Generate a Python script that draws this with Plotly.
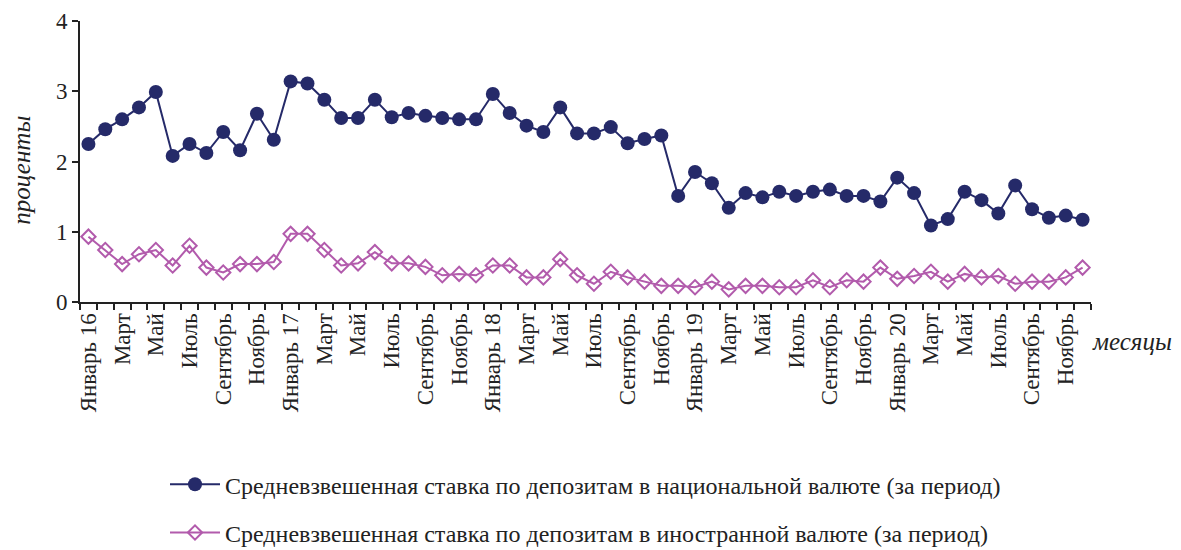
import plotly.graph_objects as go

months = ["Январь", "Февраль", "Март", "Апрель", "Май", "Июнь",
          "Июль", "Август", "Сентябрь", "Октябрь", "Ноябрь", "Декабрь"]
years = ["16", "17", "18", "19", "20"]
categories = [f"20{y}-{m:02d}" for y in years for m in range(1, 13)]
tick_labels = []
for y in years:
    for i, m in enumerate(months):
        if i == 0:
            tick_labels.append(f"{m} {y}")
        elif i % 2 == 0:
            tick_labels.append(m)
        else:
            tick_labels.append("")

national = [2.25, 2.46, 2.60, 2.77, 2.99, 2.08, 2.25, 2.12, 2.42, 2.16, 2.68, 2.31,
            3.14, 3.11, 2.88, 2.62, 2.62, 2.88, 2.63, 2.69, 2.65, 2.62, 2.60, 2.60,
            2.96, 2.69, 2.51, 2.42, 2.77, 2.40, 2.40, 2.49, 2.26, 2.32, 2.37, 1.51,
            1.85, 1.69, 1.34, 1.55, 1.49, 1.57, 1.51, 1.57, 1.60, 1.51, 1.51, 1.43,
            1.77, 1.55, 1.09, 1.18, 1.57, 1.45, 1.26, 1.66, 1.32, 1.20, 1.23, 1.17]
foreign = [0.93, 0.74, 0.54, 0.68, 0.74, 0.52, 0.80, 0.49, 0.42, 0.54, 0.54, 0.57,
           0.97, 0.97, 0.74, 0.52, 0.55, 0.71, 0.55, 0.55, 0.50, 0.38, 0.40, 0.38,
           0.52, 0.52, 0.35, 0.35, 0.61, 0.38, 0.26, 0.43, 0.35, 0.29, 0.23, 0.23,
           0.21, 0.29, 0.18, 0.23, 0.23, 0.21, 0.21, 0.31, 0.21, 0.31, 0.29, 0.49,
           0.33, 0.37, 0.43, 0.29, 0.40, 0.35, 0.37, 0.26, 0.29, 0.29, 0.35, 0.49]

name_nat = "Средневзвешенная ставка по депозитам в национальной валюте (за период)"
name_for = "Средневзвешенная ставка по депозитам в иностранной валюте (за период)"

DARK = "#252A69"
PINK = "#B25BAC"
INK = "#222222"
FONT = "Liberation Serif"

fig = go.Figure()
fig.add_trace(go.Scatter(
    x=categories, y=national, name=name_nat, mode="lines+markers",
    line=dict(color=DARK, width=2),
    marker=dict(symbol="circle", size=14, color=DARK),
    legendgroup="a",
))
fig.add_trace(go.Scatter(
    x=categories, y=foreign, name=name_for, mode="lines+markers",
    line=dict(color=PINK, width=2),
    marker=dict(symbol="diamond-open", size=11, color=PINK, line=dict(width=2, color=PINK)),
    legendgroup="b",
))

fig.update_layout(
    width=1181, height=550,
    margin=dict(l=72, r=98, t=13, b=256, autoexpand=False),
    plot_bgcolor="white", paper_bgcolor="white",
    font=dict(family=FONT, size=20, color=INK),
    showlegend=True,
    legend=dict(x=0.5, xanchor="center", y=-0.57, yanchor="top",
                orientation="v", tracegroupgap=14, itemwidth=50,
                font=dict(family=FONT, size=24, color=INK),
                bgcolor="rgba(0,0,0,0)"),
    xaxis=dict(
        type="category", categoryorder="array", categoryarray=categories,
        tickmode="array", tickvals=categories, ticktext=tick_labels,
        tickson="boundaries", ticks="outside", ticklen=6, tickwidth=1.5,
        tickcolor=INK, tickangle=-90, automargin=False,
        showline=True, linecolor=INK, linewidth=2,
        showgrid=False, zeroline=False,
        range=[-0.5, 59.5],
        tickfont=dict(family=FONT, size=23, color=INK),
    ),
    yaxis=dict(
        range=[0, 4], tickvals=[0, 1, 2, 3, 4], automargin=False,
        ticks="outside", ticklen=6, tickwidth=1.5, tickcolor=INK,
        showline=True, linecolor=INK, linewidth=2,
        showgrid=False, zeroline=False,
        tickfont=dict(family=FONT, size=23, color=INK),
    ),
    annotations=[
        dict(text="<i>проценты</i>", xref="paper", yref="paper",
             x=-0.0575, y=0.47, textangle=-90, showarrow=False,
             xanchor="center", yanchor="middle",
             font=dict(family=FONT, size=25, color=INK)),
        dict(text="<i>месяцы</i>", xref="paper", yref="paper",
             x=1.0405, y=-0.142, showarrow=False,
             xanchor="center", yanchor="middle",
             font=dict(family=FONT, size=25, color=INK)),
    ],
)

fig.write_html("out.html")
